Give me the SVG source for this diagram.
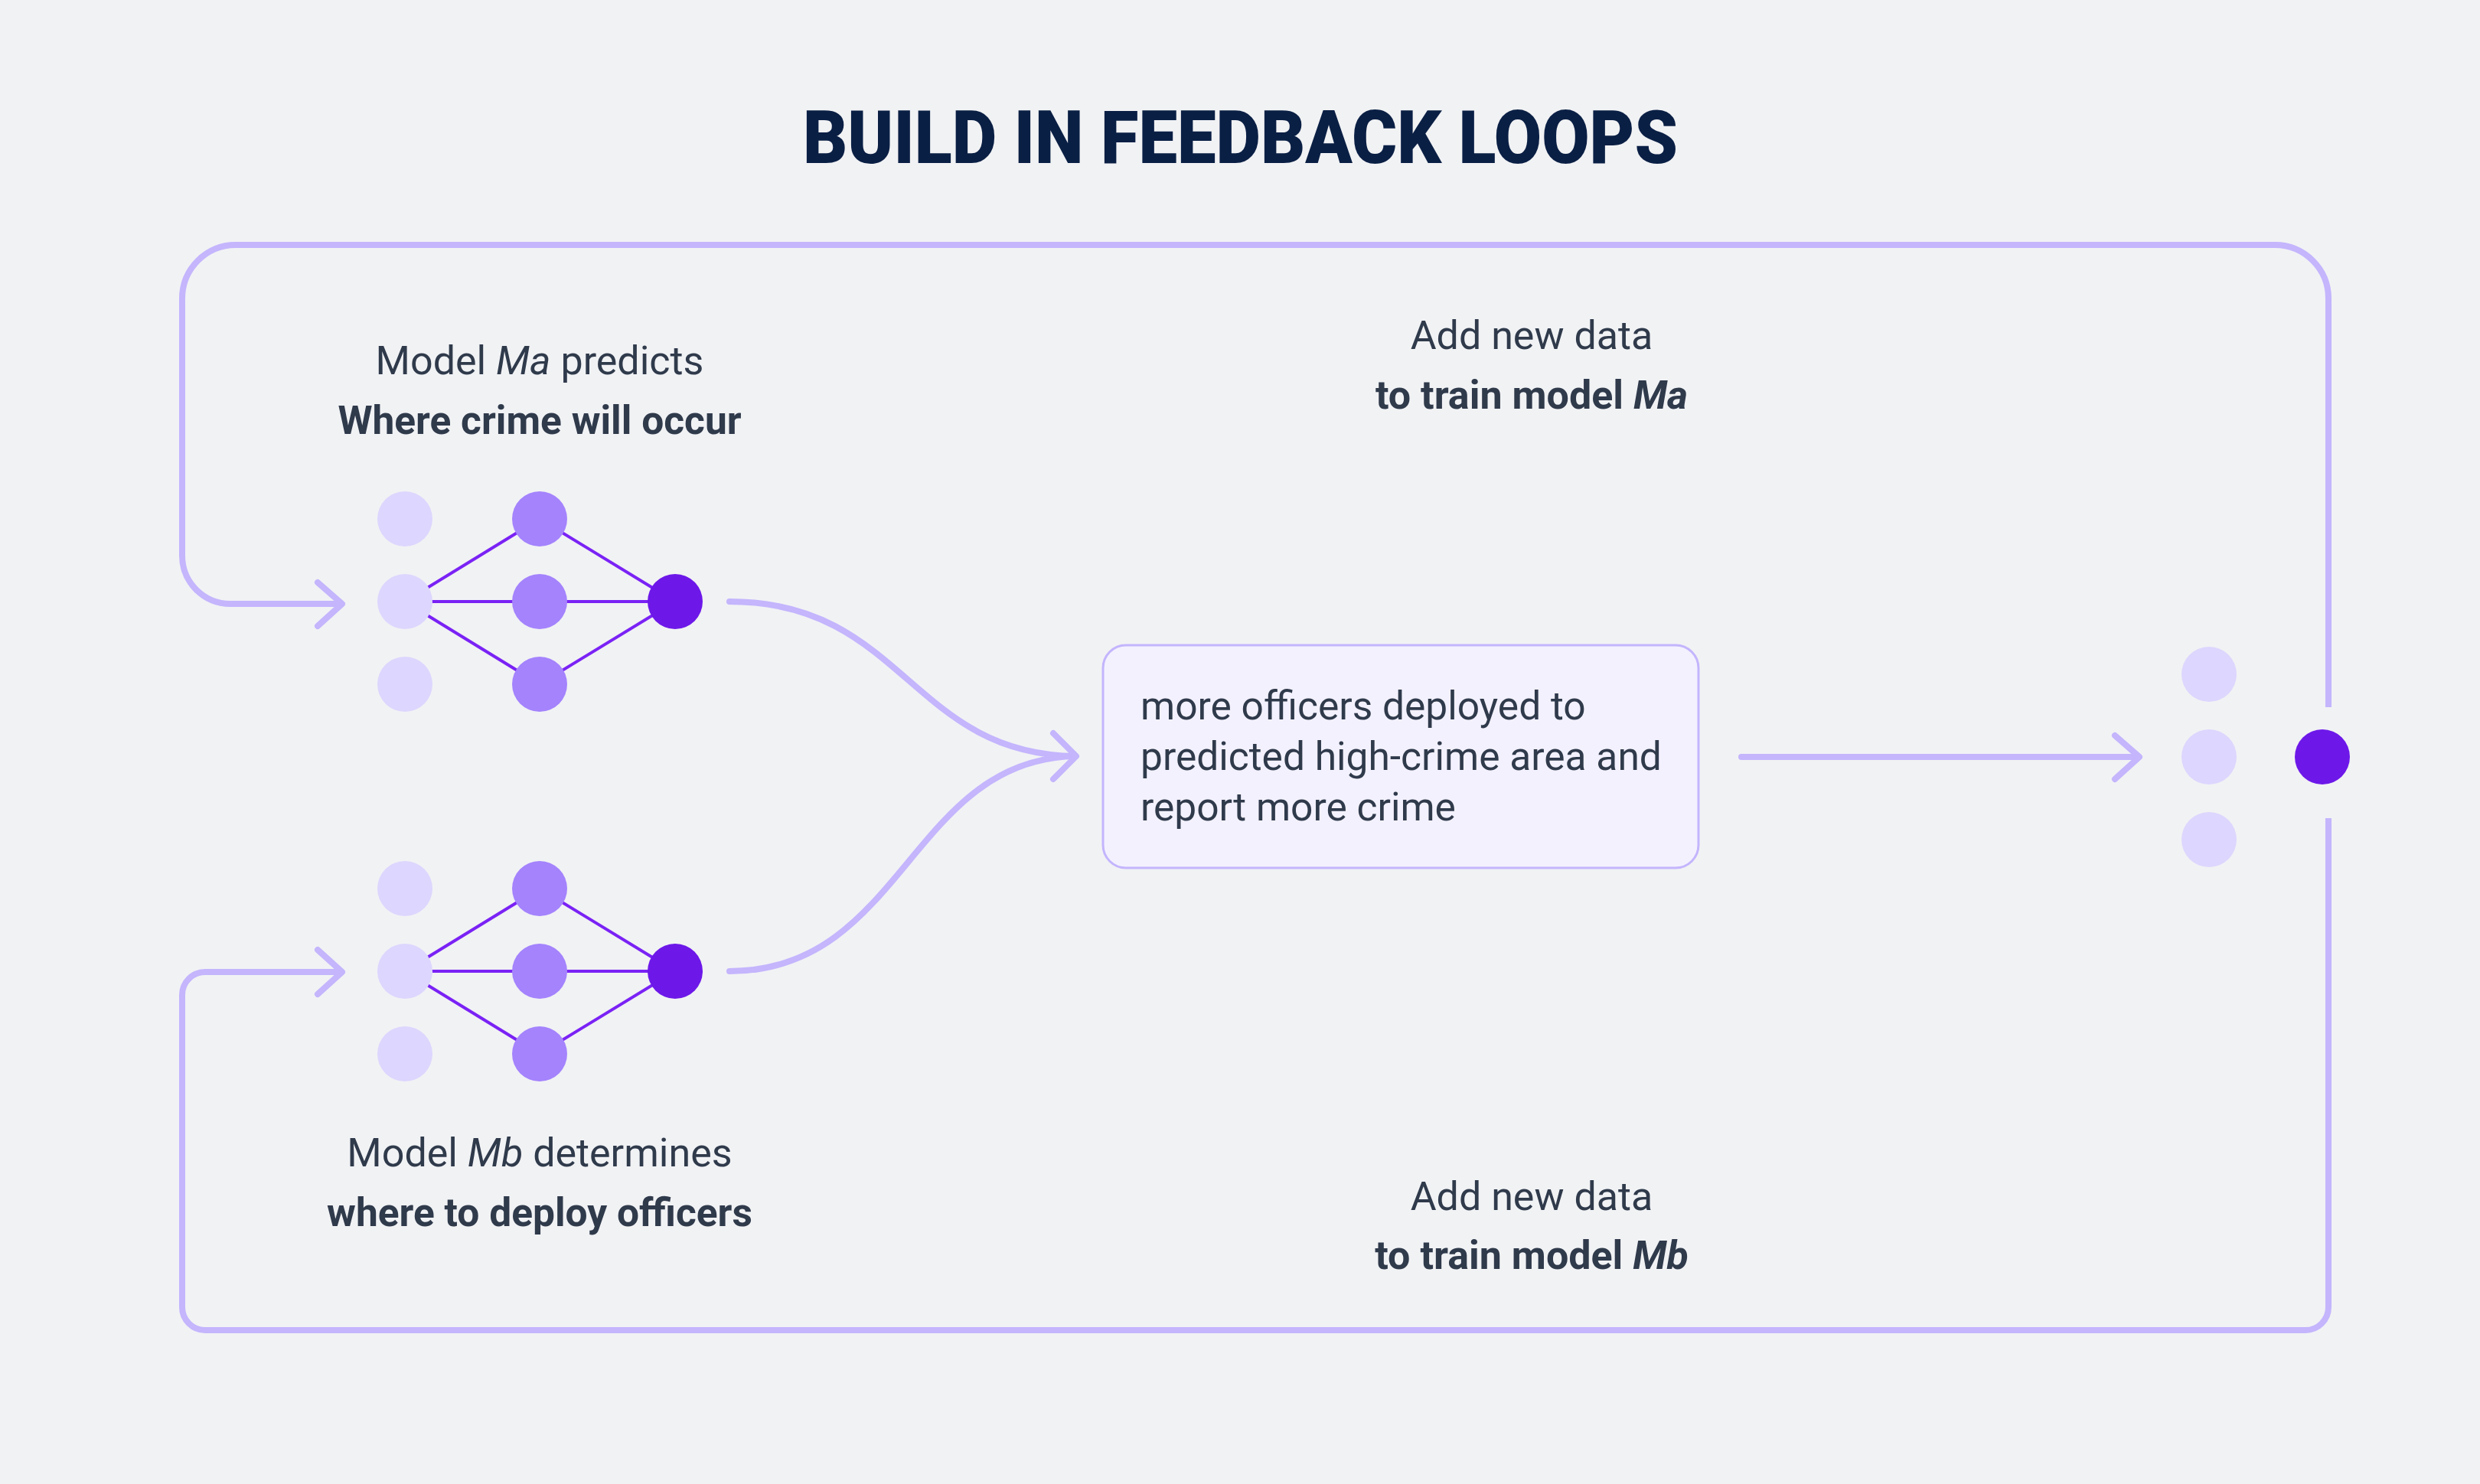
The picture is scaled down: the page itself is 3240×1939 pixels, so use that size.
<svg xmlns="http://www.w3.org/2000/svg" width="3240" height="1939" viewBox="0 0 3240 1939">
<style>
.bg{fill:#f1f2f4}
.conn{fill:none;stroke:#c4b5fd;stroke-width:8;stroke-linecap:round;stroke-linejoin:round}
.loop{fill:none;stroke:#c4b5fd;stroke-width:8;stroke-linecap:butt;stroke-linejoin:round}
.edge{stroke:#7a22f5;stroke-width:4}
.in{fill:#ddd6fe}
.hid{fill:#a483fd}
.out{fill:#6d18e9}
.t{font-family:Roboto,"Liberation Sans",sans-serif;font-size:52px;fill:#2f3a4b}
.s{font-size:51.5px}
.b{font-weight:700}
.i{font-style:italic}
.title{font-family:Roboto,"Liberation Sans",sans-serif;font-weight:900;font-size:97px;fill:#0a1f44}
.box{fill:#f3f1fe;stroke:#c4b5fd;stroke-width:3}
</style>
<rect class="bg" x="0" y="0" width="3240" height="1939"/>
<text id="title" class="title" x="1049" y="213" textLength="1143" lengthAdjust="spacingAndGlyphs">BUILD IN FEEDBACK LOOPS</text>

<g id="connectors">
  <path class="loop" d="M3042 924 L3042 390 A70 70 0 0 0 2972 320 L308 320 A70 70 0 0 0 238 390 L238 726 A63 63 0 0 0 301 789 L446 789"/>
  <path class="conn" d="M415 761 L447 789 L415 818"/>
  <path class="loop" d="M3042 1069 L3042 1708 A30 30 0 0 1 3012 1738 L268 1738 A30 30 0 0 1 238 1708 L238 1300 A30 30 0 0 1 268 1270 L446 1270"/>
  <path class="conn" d="M415 1241 L447 1270 L415 1299"/>
  <path class="conn" d="M953 786 C1180 786 1190 985 1405 988"/>
  <path class="conn" d="M953 1269 C1180 1269 1190 992 1405 988"/>
  <path class="conn" d="M1376 958 L1406 988 L1376 1018"/>
  <path class="conn" d="M2275 989 L2794 989"/>
  <path class="conn" d="M2763 961 L2795 989 L2763 1018"/>
</g>

<g id="model-a">
  <line class="edge" x1="529" y1="786" x2="705" y2="678"/>
  <line class="edge" x1="529" y1="786" x2="705" y2="786"/>
  <line class="edge" x1="529" y1="786" x2="705" y2="894"/>
  <line class="edge" x1="705" y1="678" x2="882" y2="786"/>
  <line class="edge" x1="705" y1="786" x2="882" y2="786"/>
  <line class="edge" x1="705" y1="894" x2="882" y2="786"/>
  <circle class="in" cx="529" cy="678" r="36"/>
  <circle class="in" cx="529" cy="786" r="36"/>
  <circle class="in" cx="529" cy="894" r="36"/>
  <circle class="hid" cx="705" cy="678" r="36"/>
  <circle class="hid" cx="705" cy="786" r="36"/>
  <circle class="hid" cx="705" cy="894" r="36"/>
  <circle class="out" cx="882" cy="786" r="36"/>
</g>
<g id="label-a">
  <text class="t" x="705" y="489" text-anchor="middle">Model <tspan class="i">Ma</tspan> predicts</text>
  <text class="t b s" x="705" y="567" text-anchor="middle">Where crime will occur</text>
</g>

<g id="model-b">
  <line class="edge" x1="529" y1="1269" x2="705" y2="1161"/>
  <line class="edge" x1="529" y1="1269" x2="705" y2="1269"/>
  <line class="edge" x1="529" y1="1269" x2="705" y2="1377"/>
  <line class="edge" x1="705" y1="1161" x2="882" y2="1269"/>
  <line class="edge" x1="705" y1="1269" x2="882" y2="1269"/>
  <line class="edge" x1="705" y1="1377" x2="882" y2="1269"/>
  <circle class="in" cx="529" cy="1161" r="36"/>
  <circle class="in" cx="529" cy="1269" r="36"/>
  <circle class="in" cx="529" cy="1377" r="36"/>
  <circle class="hid" cx="705" cy="1161" r="36"/>
  <circle class="hid" cx="705" cy="1269" r="36"/>
  <circle class="hid" cx="705" cy="1377" r="36"/>
  <circle class="out" cx="882" cy="1269" r="36"/>
</g>
<g id="label-b">
  <text class="t" x="705" y="1524" text-anchor="middle">Model <tspan class="i">Mb</tspan> determines</text>
  <text class="t b s" x="705" y="1602" text-anchor="middle">where to deploy officers</text>
</g>

<g id="outcome">
  <rect class="box" x="1441" y="843" width="778" height="291" rx="30" ry="30"/>
  <text class="t s" x="1490" y="940">more officers deployed to</text>
  <text class="t s" x="1490" y="1006">predicted high-crime area and</text>
  <text class="t s" x="1490" y="1072">report more crime</text>
</g>

<g id="data-layer">
  <circle class="in" cx="2886" cy="881" r="36"/>
  <circle class="in" cx="2886" cy="989" r="36"/>
  <circle class="in" cx="2886" cy="1097" r="36"/>
  <circle class="out" cx="3034" cy="989" r="36"/>
</g>

<g id="label-top">
  <text class="t" x="2001" y="456" text-anchor="middle">Add new data</text>
  <text class="t b" x="2001" y="534" text-anchor="middle">to train model <tspan class="i">Ma</tspan></text>
</g>
<g id="label-bottom">
  <text class="t" x="2001" y="1581" text-anchor="middle">Add new data</text>
  <text class="t b" x="2001" y="1658" text-anchor="middle">to train model <tspan class="i">Mb</tspan></text>
</g>
</svg>
